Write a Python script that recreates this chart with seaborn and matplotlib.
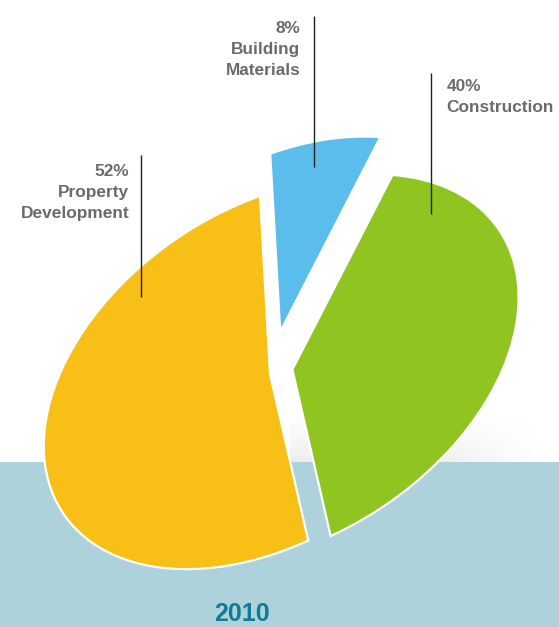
import matplotlib
matplotlib.use("Agg")
import matplotlib.pyplot as plt
import matplotlib.transforms as mtransforms
import numpy as np
import seaborn as sns

# ---- data ----
segments = ["Building Materials", "Property Development", "Construction"]
shares = [8, 52, 40]
year_label = "2010"

# ---- style ----
sns.set_theme(style="white")
plt.rcParams['font.family'] = ['Liberation Sans', 'DejaVu Sans']

palette = sns.color_palette(["#5BBDEC", "#F8BF16", "#8FC421"])
text_grey = "#6B6B6B"
band_color = "#AED2DC"
year_color = "#0E7C96"

W, H = 559, 627
fig = plt.figure(figsize=(W / 100, H / 100), dpi=100)
fig.patch.set_facecolor("white")
ax = fig.add_axes([0, 0, 1, 1])

# light blue ground band
ax.axhspan(462, H, color=band_color, zorder=0, lw=0)

# soft grey floor shadow just above the band
gy, gx = np.mgrid[0:1:60j, 0:1:120j]
alpha = 0.16 * gy ** 1.5 * np.clip((1 - gx) * 2.2, 0, 1)
shade = np.zeros(gy.shape + (4,))
shade[..., :3] = 0.55
shade[..., 3] = alpha
ax.imshow(shade, extent=(290, 545, 462, 405), zorder=0.5, interpolation="bilinear",
          aspect="auto")

# pie, then tilted into a perspective-like ellipse
wedges, _ = ax.pie(shares, colors=palette, startangle=61.2, counterclock=True,
                   explode=[0.22, 0.0, 0.10],
                   wedgeprops=dict(edgecolor="white", linewidth=1.6))
tilt = mtransforms.Affine2D.from_values(226, -80, -10, -178, 270, 374)
for w in wedges:
    w.set_transform(tilt + ax.transData)
    w.set_zorder(2)

ax.set_aspect("auto")
ax.set_xlim(0, W)
ax.set_ylim(H, 0)
ax.axis("off")

# ---- labels with leader lines ----
layout = {
    "Building Materials": dict(x=300.5, y=33.2, ha="right", lx=314, ly=(16, 167)),
    "Property Development": dict(x=129, y=175.8, ha="right", lx=140.5, ly=(155, 297)),
    "Construction": dict(x=446.5, y=90.8, ha="left", lx=431, ly=(73, 214)),
}
step = 21.1
for seg, share in zip(segments, shares):
    L = layout[seg]
    lines = [f"{share}%"] + seg.split(" ")
    for i, t in enumerate(lines):
        ax.text(L["x"], L["y"] + i * step, t, ha=L["ha"], va="baseline",
                fontsize=12.4, fontweight="bold", color=text_grey, zorder=5)
    ax.plot([L["lx"], L["lx"]], list(L["ly"]), color="#231F20", lw=1.0,
            zorder=4, solid_capstyle="butt")

ax.text(242, 621, year_label, ha="center", va="baseline", fontsize=18,
        fontweight="bold", color=year_color, zorder=5)

fig.savefig("out.png", dpi=100, facecolor="white")
